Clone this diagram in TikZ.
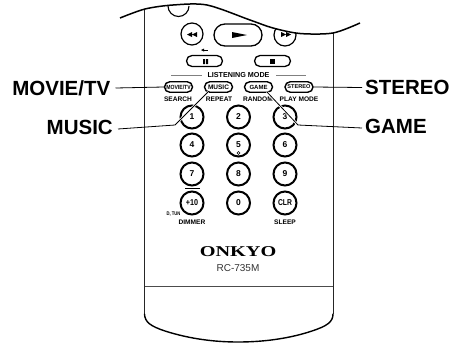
\documentclass[tikz,border=0pt]{standalone}
\usepackage{fontspec}
\usetikzlibrary{shapes.misc}
\setmainfont{Liberation Sans}
\newfontfamily\logofont{Liberation Serif}
\begin{document}
\begin{tikzpicture}[x=1pt,y=-1pt,
 numbtn/.style={circle,draw=black,line width=2pt,minimum size=23pt,inner sep=0pt,font=\fontsize{8.5}{9}\bfseries},
 tranbtn/.style={circle,draw=black,line width=1.2pt,minimum size=22pt,inner sep=0pt},
 pill/.style={rounded rectangle,draw=black,line width=1.4pt,minimum height=10.5pt,minimum width=28pt,inner sep=0pt,font=\fontsize{6}{7}\bfseries},
 widepill/.style={rounded rectangle,draw=black,line width=1.3pt,minimum height=11pt,minimum width=36pt,inner sep=0pt},
 biglabel/.style={font=\fontsize{20.5}{22}\bfseries,inner sep=0pt},
 smalllabel/.style={font=\fontsize{6.6}{7}\bfseries,inner sep=0pt},
 edgeline/.style={line width=1pt,draw=black!85},
 leader/.style={line width=0.8pt,draw=black},
 halo/.style={line width=2.4pt,draw=white},
 glyph/.style={fill=black,draw=none}]
\useasboundingbox (0,0) rectangle (458,343);
\fill[white] (0,0) rectangle (458,343);
% body
\coordinate (bodyTL) at (144.5,8);
\coordinate (bodyTR) at (333,30);
\coordinate (bodyBL) at (144.5,314);
\coordinate (bodyBR) at (333,314);
\draw[edgeline] (bodyTL) -- (bodyBL);
\draw[edgeline] (bodyTR) -- (bodyBR);
\draw[line width=1.4pt,line cap=round] (bodyBL) .. controls (145,322) and (150,326) .. (165,331) .. controls (190,339) and (215,342) .. (238,342) .. controls (262,342) and (288,339) .. (312,331) .. controls (327,326) and (333,322) .. (bodyBR);
\draw[line width=1pt,draw=black!70] (144.5,286) -- (333,286);
% top notch
\draw[line width=1.1pt] (168,6) arc[start angle=180,end angle=0,radius=10.5];
% transport
\node[tranbtn] (rew) at (192,34) {};
\node[tranbtn] (ff) at (285,35) {};
\node[rounded rectangle,draw=black,line width=1.3pt,minimum width=48pt,minimum height=22pt,inner sep=0pt] (play) at (238,35) {};
\fill[glyph] (187,34.5) -- (192,32) -- (192,37) -- cycle (192,34.5) -- (197,32) -- (197,37) -- cycle;
\fill[glyph] (286,34.5) -- (281,32) -- (281,37) -- cycle (291,34.5) -- (286,32) -- (286,37) -- cycle;
\fill[glyph] (232,32) -- (247,35) -- (232,38) -- cycle;
% mask above the curve
\fill[white] plot[smooth] coordinates {(120,18) (145,9) (173,5) (207,5) (250,20) (273,28) (300,33.5) (333,33) (360,23)} -- (360,0) -- (120,0) -- cycle;
\draw[line width=1.5pt] plot[smooth] coordinates {(120,18) (145,9) (173,5) (207,5) (250,20) (273,28) (300,33.5) (333,33) (360,23)};
% pause / stop
\node[widepill] (pause) at (204.5,61) {};
\node[widepill] (stop) at (272.5,61) {};
\fill[glyph] (203,59) rectangle (205,64) (206,59) rectangle (208,64);
\fill[glyph] (270,59) rectangle (275,64);
\fill[glyph] (201,50) -- (204,48.5) -- (204,51.5) -- cycle;
\fill[glyph] (204,49.6) rectangle (208,50.4);
% listening mode
\node[font=\fontsize{7.2}{8}\bfseries,inner sep=0pt] (lm) at (238.5,75.5) {LISTENING MODE};
\draw[line width=0.9pt,draw=black!50] (171,75) -- (202,75);
\draw[line width=0.9pt,draw=black!50] (276,75) -- (306,75);
% mode pills
\node[pill] (movie) at (178.5,87) {\fontsize{6}{7}\bfseries\scalebox{.85}[1]{MOVIE/TV}};
\node[pill] (music) at (218.5,87) {\fontsize{6.5}{7}\bfseries MUSIC};
\node[pill] (game) at (258.5,87) {GAME};
\node[pill] (stereo) at (299,87) {\fontsize{5.6}{7}\bfseries STEREO};
\node[smalllabel] (search) at (178,99.5) {SEARCH};
\node[smalllabel] (repeat) at (219,99.5) {REPEAT};
\node[smalllabel] (random) at (258,99.5) {RANDOM};
\node[smalllabel] (playmode) at (299,99.5) {PLAY MODE};
% number pad
\foreach \nm/\lb/\px/\py in {n1/1/192/117,n2/2/238.5/117,n3/3/285/117,n4/4/192/145,n5/5/238.5/145,n6/6/285/145,n7/7/192/174,n8/8/238.5/174,n9/9/285/174,n0/0/238.5/203}
  \node[numbtn] (\nm) at (\px,\py) {\lb};
\node[numbtn] (n10) at (192,203) {\scalebox{.85}[1]{+10}};
\node[numbtn] (nclr) at (285,203) {\scalebox{.8}[1]{CLR}};
\draw[line width=0.8pt] (185,188) -- (200,188);
\draw[line width=0.6pt,fill=white] (238.5,153) circle[radius=1.5];
\node[inner sep=0pt,font=\fontsize{5.2}{6}\bfseries] (dtun) at (173.5,214) {\scalebox{.8}[1]{D, TUN}};
\node[smalllabel] (dimmer) at (192,222) {DIMMER};
\node[smalllabel] (sleep) at (285,222) {SLEEP};
\node[inner sep=0pt] (onkyo) at (238,252) {\scalebox{1.35}[1]{\logofont\fontsize{15}{16}\bfseries ONKYO}};
\node[inner sep=0pt,font=\fontsize{6.3}{7},text=black!80] (rc) at (238,268.5) {RC-735M};
% call-outs
\node[biglabel,anchor=east] (lmovie) at (110.5,88) {MOVIE/TV};
\node[biglabel,anchor=east] (lmusic) at (113,127) {MUSIC};
\node[biglabel,anchor=west] (lstereo) at (365,87.5) {STEREO};
\node[biglabel,anchor=west] (lgame) at (365,126.5) {GAME};
\coordinate (kmusic) at (175,125);
\coordinate (kgame) at (298,125);
\coordinate (emusic) at (208,92);
\coordinate (egame) at (267,92);
\draw[halo] (kmusic) -- (emusic);
\draw[halo] (kgame) -- (egame);
\draw[leader] ([xshift=5pt]lmovie.east) -- (movie.west);
\draw[leader] ([xshift=5pt,yshift=-2pt]lmusic.east) -- (kmusic) -- (emusic);
\draw[leader] ([xshift=-3pt]lstereo.west) -- (stereo.east);
\draw[leader] ([xshift=-3pt,yshift=-1.5pt]lgame.west) -- (kgame) -- (egame);
\end{tikzpicture}
\end{document}
